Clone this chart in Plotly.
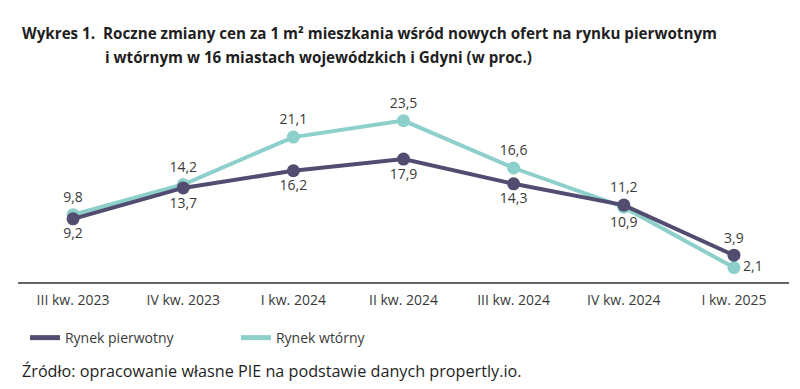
import plotly.graph_objects as go

categories = ["III kw. 2023", "IV kw. 2023", "I kw. 2024", "II kw. 2024", "III kw. 2024", "IV kw. 2024", "I kw. 2025"]
pierwotny = [9.2, 13.7, 16.2, 17.9, 14.3, 11.2, 3.9]
wtorny = [9.8, 14.2, 21.1, 23.5, 16.6, 10.9, 2.1]
pierwotny_pos = ["bottom center"] * 5 + ["top center", "top center"]
wtorny_pos = ["top center"] * 5 + ["bottom center", "middle right"]

dark = "#514c70"
light = "#8dcfca"
txt = "#3a3a3a"
FONT = "Open Sans"

def fmt(v):
    return f"{v:.1f}".replace(".", ",")

fig = go.Figure()
fig.add_trace(go.Scatter(
    x=categories, y=wtorny, name="Rynek wtórny", mode="lines+markers+text",
    line=dict(color=light, width=4), marker=dict(color=light, size=13),
    text=[fmt(v) for v in wtorny], textposition=wtorny_pos,
    textfont=dict(family=FONT, size=14, color=txt), cliponaxis=False, showlegend=False,
))
fig.add_trace(go.Scatter(
    x=categories, y=pierwotny, name="Rynek pierwotny", mode="lines+markers+text",
    line=dict(color=dark, width=4), marker=dict(color=dark, size=13),
    text=[fmt(v) for v in pierwotny], textposition=pierwotny_pos,
    textfont=dict(family=FONT, size=14, color=txt), cliponaxis=False, showlegend=False,
))
# legend entries
fig.add_trace(go.Scatter(x=[None], y=[None], mode="lines", name="Rynek pierwotny",
                         line=dict(color=dark, width=5)))
fig.add_trace(go.Scatter(x=[None], y=[None], mode="lines", name="Rynek wtórny",
                         line=dict(color=light, width=5)))

fig.update_layout(
    width=800, height=389, paper_bgcolor="white", plot_bgcolor="white",
    margin=dict(l=10, r=19, t=68, b=115),
    showlegend=True,
    legend=dict(orientation="h", x=0.009, y=-0.272, xanchor="left", yanchor="middle",
                font=dict(family=FONT, size=14, color=txt),
                entrywidth=166, entrywidthmode="pixels"),
    xaxis=dict(type="category", range=[-0.5, 6.5], showgrid=False, showline=True,
               linecolor="#666666", linewidth=1.5, ticks="outside", ticklen=4,
               tickcolor="rgba(0,0,0,0)",
               tickfont=dict(family=FONT, size=14, color=txt)),
    yaxis=dict(range=[0, 30], visible=False),
    font=dict(family=FONT),
)

title_font = dict(family=FONT, size=15.2, color="#1f1f1f")
fig.add_annotation(xref="paper", yref="paper", x=0, y=1, xanchor="left", yanchor="middle",
                   text="<b>Wykres 1.</b>", showarrow=False, xshift=2, yshift=43,
                   font=title_font)
fig.add_annotation(xref="paper", yref="paper", x=0, y=1, xanchor="left", yanchor="middle",
                   text="<b>Roczne zmiany cen za 1 m² mieszkania wśród nowych ofert na rynku pierwotnym</b>",
                   showarrow=False, xshift=83, yshift=43, font=title_font)
fig.add_annotation(xref="paper", yref="paper", x=0, y=1, xanchor="left", yanchor="middle",
                   text="<b>i wtórnym w 16 miastach wojewódzkich i Gdyni (w proc.)</b>",
                   showarrow=False, xshift=85, yshift=19, font=title_font)
fig.add_annotation(xref="paper", yref="paper", x=0, y=0, xanchor="left", yanchor="middle",
                   text="Źródło: opracowanie własne PIE na podstawie danych propertly.io.",
                   showarrow=False, xshift=2, yshift=-89,
                   font=dict(family=FONT, size=16.2, color="#1f1f1f"))

fig.write_html("out.html")
